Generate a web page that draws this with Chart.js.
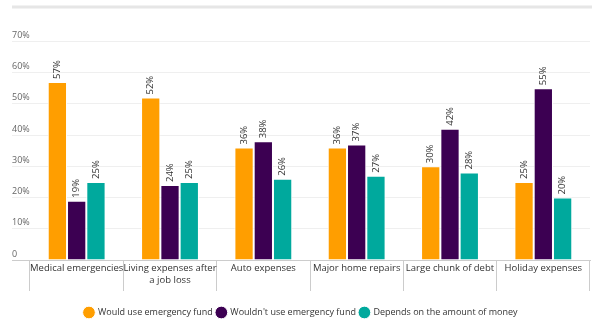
<!DOCTYPE html>
<html>
<head>
<meta charset="utf-8">
<script src="https://cdn.jsdelivr.net/npm/chart.js@4.4.0/dist/chart.umd.min.js"></script>
<style>
  html, body { margin: 0; padding: 0; background: #fff; }
  #wrap { width: 600px; height: 328px; }
</style>
</head>
<body>
<div id="wrap"><canvas id="barChart"></canvas></div>
<script>
const categories = [
    'Medical emergencies',
    ['Living expenses after', 'a job loss'],
    'Auto expenses',
    'Major home repairs',
    'Large chunk of debt',
    'Holiday expenses'
];
const wouldUse = [57, 52, 36, 36, 30, 25];
const wouldntUse = [19, 24, 38, 37, 42, 55];
const depends = [25, 25, 26, 27, 28, 20];
const yTicks = [0, 10, 20, 30, 40, 50, 60, 70];

const fontFamily = "'Open Sans', 'Noto Sans', sans-serif";

// value labels rotated above each bar
const barLabels = {
    id: 'barLabels',
    afterDatasetsDraw(chart) {
        const ctx = chart.ctx;
        ctx.save();
        ctx.font = '9.5px ' + fontFamily;
        ctx.fillStyle = '#333';
        ctx.textAlign = 'left';
        ctx.textBaseline = 'middle';
        chart.data.datasets.forEach((ds, i) => {
            chart.getDatasetMeta(i).data.forEach((bar, j) => {
                ctx.save();
                ctx.translate(bar.x, bar.y - 3);
                ctx.rotate(-Math.PI / 2);
                ctx.fillText(ds.data[j] + '%', 0, 0);
                ctx.restore();
            });
        });
        ctx.restore();
    }
};

// thick grey rule above the plot
const topRule = {
    id: 'topRule',
    beforeDraw(chart) {
        const ctx = chart.ctx;
        const area = chart.chartArea;
        ctx.save();
        ctx.strokeStyle = '#e6e6e6';
        ctx.lineWidth = 3;
        ctx.beginPath();
        ctx.moveTo(12, area.top - 3);
        ctx.lineTo(area.right + 2, area.top - 3);
        ctx.stroke();
        ctx.restore();
    }
};

new Chart(document.getElementById('barChart'), {
    type: 'bar',
    data: {
        labels: categories,
        datasets: [{
            label: 'Would use emergency fund',
            data: wouldUse,
            backgroundColor: '#ff9e00'
        }, {
            label: "Wouldn't use emergency fund",
            data: wouldntUse,
            backgroundColor: '#3c0052'
        }, {
            label: 'Depends on the amount of money',
            data: depends,
            backgroundColor: '#00a99d'
        }]
    },
    options: {
        responsive: true,
        maintainAspectRatio: false,
        animation: false,
        layout: { padding: { left: 12, right: 10, top: 10, bottom: 1 } },
        datasets: {
            bar: {
                categoryPercentage: 0.62,
                barPercentage: 1,
                borderColor: '#fff',
                borderWidth: 1
            }
        },
        scales: {
            x: {
                grid: {
                    offset: true,
                    drawOnChartArea: false,
                    drawTicks: true,
                    tickLength: 31,
                    color: '#ccc'
                },
                border: { display: true, color: '#ccc' },
                ticks: {
                    color: '#333',
                    padding: -28,
                    maxRotation: 0,
                    autoSkip: false,
                    font: { family: fontFamily, size: 9.5 }
                },
                afterFit(scale) { scale.height = 44; }
            },
            y: {
                min: 0,
                max: 80,
                afterBuildTicks(scale) {
                    scale.ticks = yTicks.concat([80]).map(v => ({ value: v }));
                },
                grid: {
                    drawTicks: true,
                    tickLength: 18,
                    color: ctx => ctx.tick && ctx.tick.value === 80 ? 'rgba(0,0,0,0)' :
                        (ctx.tick && ctx.tick.value === 0 ? '#ccc' : '#efefef')
                },
                border: { display: false },
                ticks: {
                    color: '#666',
                    crossAlign: 'far',
                    labelOffset: -6,
                    font: { family: fontFamily, size: 9 },
                    callback: v => v === 80 ? '' : (v === 0 ? '0' : v + '%')
                },
                afterFit(scale) { scale.width = 18; }
            }
        },
        plugins: {
            legend: {
                display: true,
                position: 'bottom',
                labels: {
                    color: '#333',
                    usePointStyle: true,
                    pointStyle: 'circle',
                    boxWidth: 10,
                    boxHeight: 10,
                    padding: 4,
                    font: { family: fontFamily, size: 9 }
                }
            },
            tooltip: { enabled: false }
        }
    },
    plugins: [barLabels, topRule]
});
</script>
</body>
</html>
